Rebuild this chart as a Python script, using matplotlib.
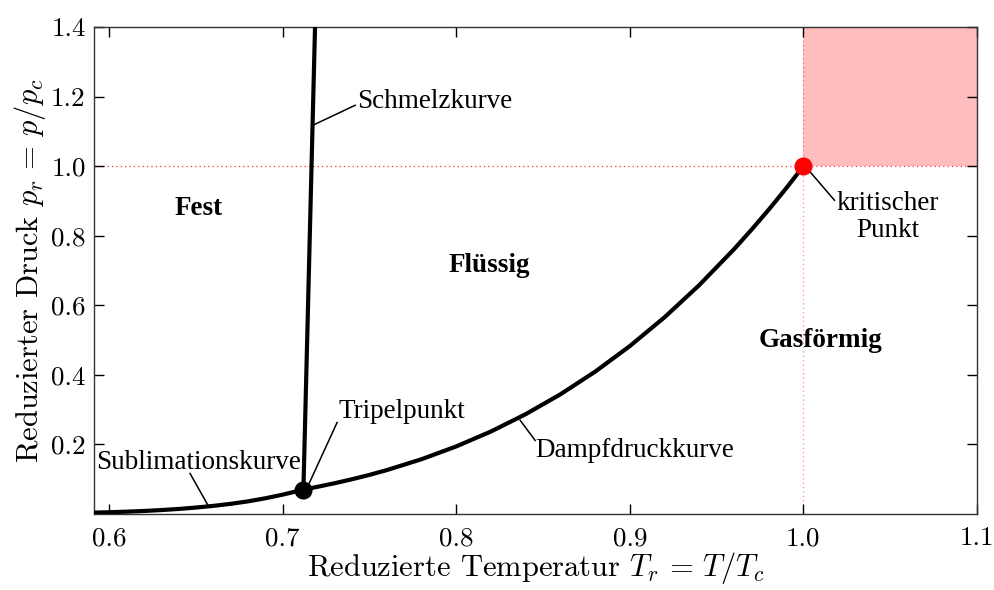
import numpy as np
import matplotlib
matplotlib.use("Agg")
import matplotlib.pyplot as plt

plt.rcParams["font.family"] = "serif"
plt.rcParams["font.serif"] = ["cmr10"]
plt.rcParams["mathtext.fontset"] = "cm"
plt.rcParams["axes.formatter.use_mathtext"] = True

# Sublimationskurve (fest -> gasförmig)
T_sub = [0.59, 0.60, 0.61, 0.62, 0.63, 0.64, 0.65, 0.66, 0.67, 0.68, 0.69, 0.70, 0.712]
p_sub = [0.0039, 0.0051, 0.0067, 0.0087, 0.0113, 0.0145, 0.0185, 0.0233, 0.0292,
         0.0363, 0.0451, 0.0556, 0.0700]

# Dampfdruckkurve (flüssig -> gasförmig), Tripelpunkt bis kritischer Punkt
T_vap = [0.712, 0.72, 0.73, 0.74, 0.75, 0.76, 0.78, 0.80, 0.82, 0.84, 0.86, 0.88,
         0.90, 0.92, 0.94, 0.96, 0.97, 0.98, 0.99, 1.0]
p_vap = [0.0700, 0.0781, 0.0885, 0.0999, 0.1124, 0.1262, 0.1574, 0.1942, 0.2371,
         0.2869, 0.3440, 0.4090, 0.4827, 0.5655, 0.6580, 0.7610, 0.8167, 0.8748,
         0.9359, 1.0]

# Schmelzkurve (fest -> flüssig)
T_melt = [0.712, 0.7188]
p_melt = [0.0700, 1.42]

T_triple, p_triple = 0.712, 0.070
T_crit, p_crit = 1.0, 1.0

x_ticks = [0.6, 0.7, 0.8, 0.9, 1.0, 1.1]
y_ticks = [0.2, 0.4, 0.6, 0.8, 1.0, 1.2, 1.4]

fig = plt.figure(figsize=(9.94, 5.90), dpi=100)
ax = fig.add_axes([0.0946, 0.1288, 0.8883, 0.8254])

# überkritischer Bereich
ax.fill_between([T_crit, 1.1], p_crit, 1.4, color="#ffbdbd", lw=0, zorder=0)
ax.axhline(p_crit, color="red", ls=(0, (1, 2.5)), lw=0.9, alpha=0.8, zorder=1)
ax.axvline(T_crit, color="red", ls=(0, (1, 2.5)), lw=0.9, alpha=0.45, zorder=1)

kw = dict(color="black", lw=3, solid_capstyle="butt", solid_joinstyle="round", zorder=3)
ax.plot(T_sub, p_sub, **kw)
ax.plot(T_vap, p_vap, **kw)
ax.plot(T_melt, p_melt, **kw)
ax.plot(T_triple, p_triple, "o", color="black", ms=12, zorder=4)
ax.plot(T_crit, p_crit, "o", color="red", ms=12, zorder=4, clip_on=False)

lab_font = dict(family="Liberation Serif", fontsize=19.5)
bold_font = dict(family="Liberation Serif", fontsize=19.5, fontweight="bold")

# Beschriftungen mit Hinweislinien
def leader(x0, y0, x1, y1):
    ax.plot([x0, x1], [y0, y1], color="black", lw=1.1, zorder=2)

leader(0.7176, 1.118, 0.7418, 1.175)
ax.text(0.7429, 1.167, "Schmelzkurve", ha="left", va="baseline", **lab_font)

leader(0.7153, 0.088, 0.7314, 0.263)
ax.text(0.7320, 0.275, "Tripelpunkt", ha="left", va="baseline", **lab_font)

leader(0.6571, 0.0245, 0.6467, 0.1165)
ax.text(0.6516, 0.128, "Sublimationskurve", ha="center", va="baseline", **lab_font)

leader(0.8369, 0.269, 0.8455, 0.2115)
ax.text(0.8455, 0.163, "Dampfdruckkurve", ha="left", va="baseline", **lab_font)

leader(1.0035, 0.9856, 1.0179, 0.902)
ax.text(1.0484, 0.874, "kritischer", ha="center", va="baseline", **lab_font)
ax.text(1.0484, 0.796, "Punkt", ha="center", va="baseline", **lab_font)

ax.text(0.6519, 0.859, "Fest", ha="center", va="baseline", **bold_font)
ax.text(0.8190, 0.695, "Flüssig", ha="center", va="baseline", **bold_font)
ax.text(1.0098, 0.479, "Gasförmig", ha="center", va="baseline", **bold_font)

ax.set_xlim(0.5914, 1.1)
ax.set_ylim(0, 1.4)
ax.set_xticks(x_ticks)
ax.set_yticks(y_ticks)
ax.set_xticklabels([f"{v:.1f}" for v in x_ticks])
ax.set_yticklabels([f"{v:.1f}" for v in y_ticks])
ax.tick_params(direction="in", top=True, right=True, length=7, width=1,
               labelsize=19.5)
ax.tick_params(axis="x", pad=9)
ax.tick_params(axis="y", pad=6)
for s in ax.spines.values():
    s.set_linewidth(1.0)
    s.set_color("#333333")

ax.set_xlabel("Reduzierte Temperatur $T_r\\,=\\,T/T_c$", fontsize=22, labelpad=0)
ax.set_ylabel("Reduzierter Druck $p_r\\,=\\,p/p_c$", fontsize=22, labelpad=2)

fig.savefig("out.png", dpi=100)
